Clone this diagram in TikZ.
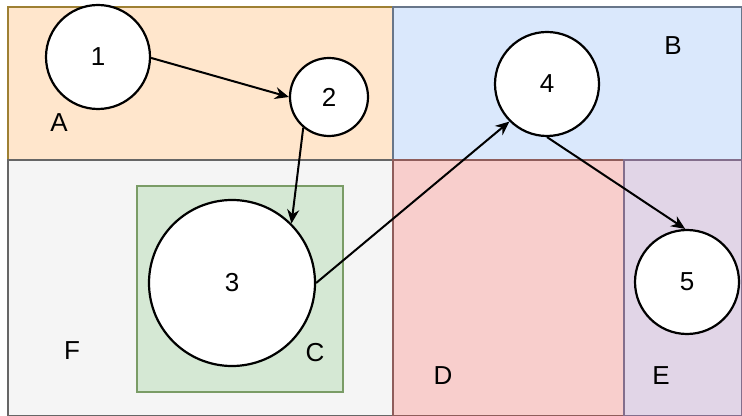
\documentclass[tikz,border=0pt]{standalone}
\usepackage{fontspec}
\setmainfont{Liberation Sans}
\usetikzlibrary{positioning,arrows.meta}

\definecolor{orangeFill}{HTML}{FFE6CC}
\definecolor{orangeLine}{HTML}{D79B00}
\definecolor{blueFill}{HTML}{DAE8FC}
\definecolor{blueLine}{HTML}{6C8EBF}
\definecolor{grayFill}{HTML}{F5F5F5}
\definecolor{grayLine}{HTML}{666666}
\definecolor{greenFill}{HTML}{D5E8D4}
\definecolor{greenLine}{HTML}{82B366}
\definecolor{redFill}{HTML}{F8CECC}
\definecolor{redLine}{HTML}{B85450}
\definecolor{purpleFill}{HTML}{E1D5E7}
\definecolor{purpleLine}{HTML}{9673A6}

\begin{document}
\begin{tikzpicture}[
  x=0.5pt, y=-0.5pt,
  % Region Styles
  zone/.style={line width=0.75pt},
  zoneA/.style={zone, fill=orangeFill, draw=orangeLine!50!grayLine},
  zoneB/.style={zone, fill=blueFill, draw=blueLine!40!grayLine},
  zoneF/.style={zone, fill=grayFill, draw=grayLine},
  zoneC/.style={zone, fill=greenFill, draw=greenLine!70!grayLine},
  zoneD/.style={zone, fill=redFill, draw=redLine!50!grayLine},
  zoneE/.style={zone, fill=purpleFill, draw=purpleLine!60!grayLine},
  % Node Styles
  bub/.style={circle, draw, line width=1.1pt, fill=white, inner sep=0pt, font=\fontsize{13}{15}\selectfont},
  bubS/.style={bub, minimum size=39pt},
  bubM/.style={bub, minimum size=52pt},
  bubL/.style={bub, minimum size=83pt},
  zonelabel/.style={inner sep=0pt, font=\fontsize{13}{15}\selectfont},
  % Arrow Styles
  solidarrow/.style={-{Stealth[length=7pt, width=6pt]}, line width=1pt},
]
\useasboundingbox (0,0) rectangle (742,416);

% Regions
\path[zoneA] (8,7) rectangle (393,160);
\path[zoneB] (393,7) rectangle (742,160);
\path[zoneF] (8,160) rectangle (393,416);
\path[zoneD] (393,160) rectangle (624,416);
\path[zoneE] (624,160) rectangle (742,416);
\path[zoneC] (137,186) rectangle (343,392);

\node[zonelabel] (labA) at (59,123) {A};
\node[zonelabel] (labB) at (673,46) {B};
\node[zonelabel] (labF) at (72,351) {F};
\node[zonelabel] (labC) at (315,353) {C};
\node[zonelabel] (labD) at (443,376) {D};
\node[zonelabel] (labE) at (661,376) {E};

% Circles
\node[bubM] (n1) at (98,57) {1};
\node[bubS] (n2) at (329,97) {2};
\node[bubL] (n3) at (232,283) {3};
\node[bubM] (n4) at (547,84) {4};
\node[bubM] (n5) at (687,282) {5};

\draw[solidarrow] (n1.-1) -- (n2.180);
\draw[solidarrow] (n2.230) -- (n3.45);
\draw[solidarrow] (n3.0) -- (n4.225);
\draw[solidarrow] (n4.270) -- (n5.92);

\end{tikzpicture}
\end{document}
